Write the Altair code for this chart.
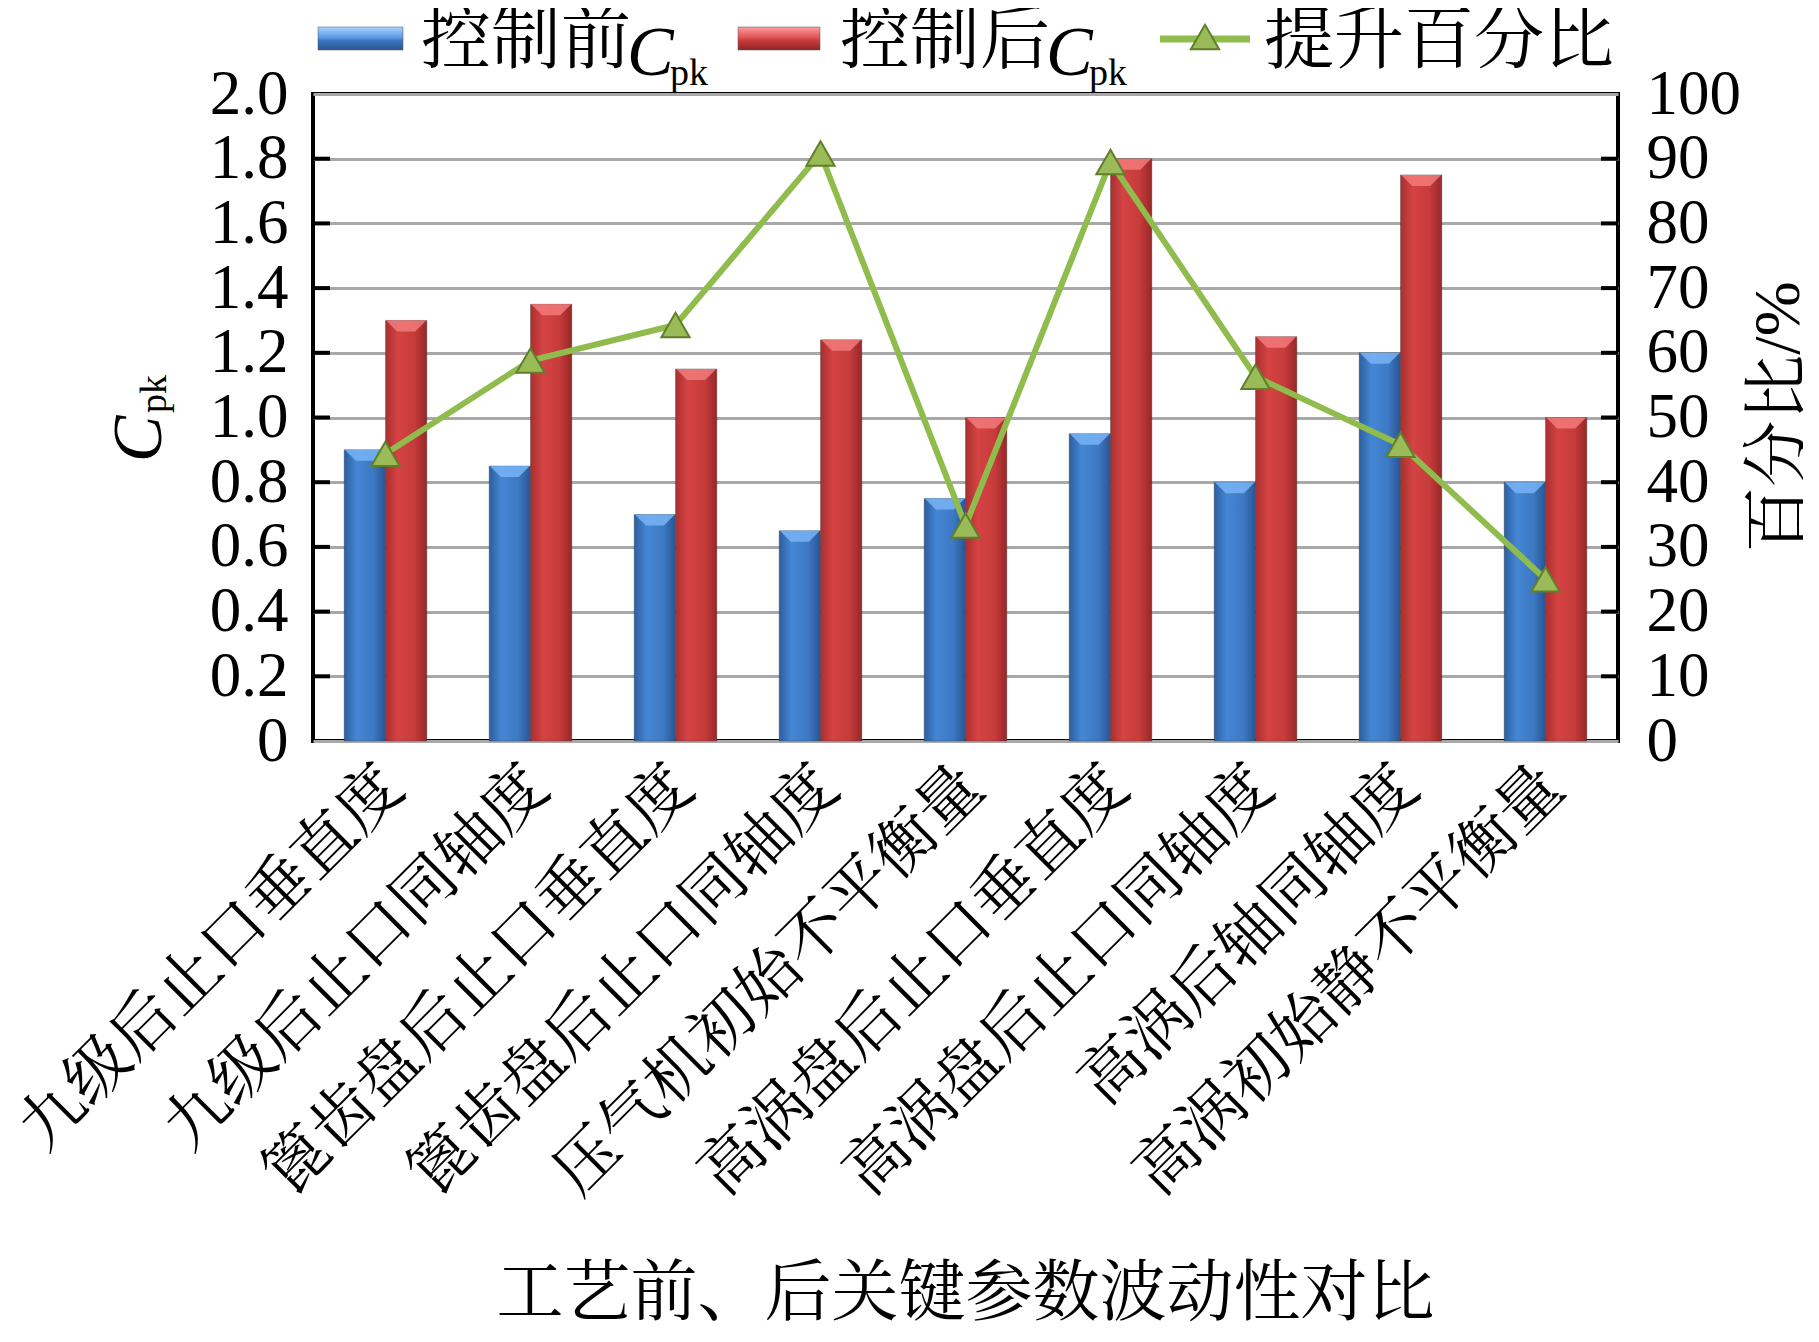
import altair as alt
import pandas as pd

categories = ["九级后止口垂直度", "九级后止口同轴度", "篦齿盘后止口垂直度", "篦齿盘后止口同轴度",
              "压气机初始不平衡量", "高涡盘后止口垂直度", "高涡盘后止口同轴度", "高涡后轴同轴度",
              "高涡初始静不平衡量"]
before = [0.90, 0.85, 0.70, 0.65, 0.75, 0.95, 0.80, 1.20, 0.80]
after = [1.30, 1.35, 1.15, 1.24, 1.00, 1.80, 1.25, 1.75, 1.00]
pct = [44.4, 58.8, 64.3, 90.8, 33.3, 89.5, 56.3, 45.8, 25.0]
series_names = ["控制前", "控制后"]
left_ticks = [0, 0.2, 0.4, 0.6, 0.8, 1.0, 1.2, 1.4, 1.6, 1.8, 2.0]
right_ticks = [0, 10, 20, 30, 40, 50, 60, 70, 80, 90, 100]
x_title = "工艺前、后关键参数波动性对比"
right_title = "百分比/%"
legend3 = "提升百分比"

W, H = 1305, 647
CJK = "Liberation Serif, Noto Serif CJK SC, Noto Sans CJK SC"
NUM = "Liberation Serif"

df = pd.DataFrame({"cat": categories, "before": before, "after": after, "pct": pct})
lt = pd.DataFrame({"v": left_ticks[1:-1]})
rt = pd.DataFrame({"v": right_ticks[1:-1]})

grad_blue = alt.Gradient(gradient="linear", x1=0, x2=1, y1=0, y2=0, stops=[
    alt.GradientStop(color="#2c5f9f", offset=0), alt.GradientStop(color="#4586d4", offset=0.3),
    alt.GradientStop(color="#3d79c4", offset=0.7), alt.GradientStop(color="#2a5592", offset=1)])
grad_red = alt.Gradient(gradient="linear", x1=0, x2=1, y1=0, y2=0, stops=[
    alt.GradientStop(color="#a92f2f", offset=0), alt.GradientStop(color="#d54343", offset=0.3),
    alt.GradientStop(color="#c73b3b", offset=0.7), alt.GradientStop(color="#962828", offset=1)])
leg_blue = alt.Gradient(gradient="linear", x1=0, x2=0, y1=0, y2=1, stops=[
    alt.GradientStop(color="#a8d4ff", offset=0), alt.GradientStop(color="#5b9be2", offset=0.45),
    alt.GradientStop(color="#3b74bd", offset=0.6), alt.GradientStop(color="#2b578f", offset=1)])
leg_red = alt.Gradient(gradient="linear", x1=0, x2=0, y1=0, y2=1, stops=[
    alt.GradientStop(color="#ff9c9c", offset=0), alt.GradientStop(color="#e05555", offset=0.45),
    alt.GradientStop(color="#c53a3a", offset=0.6), alt.GradientStop(color="#8f2626", offset=1)])

GREEN = "#8fbc4c"

xenc = alt.X("cat:N", sort=categories,
             scale=alt.Scale(paddingInner=0.43, paddingOuter=0.215),
             axis=alt.Axis(title=None, labelAngle=-45, labelAlign="right", labelBaseline="middle",
                           labelFont=CJK, labelFontSize=64, labelColor="black", labelPadding=36,
                           labelOffset=8, ticks=False, domain=False, labelLimit=0, grid=False,
                           labelOverlap=False))

lscale = alt.Scale(domain=[0, 2], nice=False, zero=True)
rscale = alt.Scale(domain=[0, 100], nice=False, zero=True)
laxis = alt.Axis(values=left_ticks, labelExpr="datum.value == 0 ? '0' : format(datum.value, '.1f')",
                 grid=True, gridColor="#a8a8a8", gridWidth=3, ticks=False, domain=False,
                 labelFont=NUM, labelFontSize=63, labelColor="black", labelPadding=25, title=None,
                 labelOverlap=False)
raxis = alt.Axis(orient="right", values=right_ticks, grid=False, ticks=False, domain=False,
                 labelFont=NUM, labelFontSize=63, labelColor="black", labelPadding=28, title=None,
                 labelOverlap=False)

xoff = alt.XOffset("s:N", scale=alt.Scale(domain=series_names, paddingInner=0, paddingOuter=0))

bevel = "M-1,0L1,0L0.45,0.55L-0.45,0.55Z"

def bars(field, name, grad, light):
    base = alt.Chart(df).transform_calculate(s=f"'{name}'")
    b = base.mark_bar(color=grad, stroke="#333333", strokeWidth=1, strokeOpacity=0.35).encode(
        x=xenc, xOffset=xoff, y=alt.Y(f"{field}:Q", scale=lscale, axis=laxis))
    t = base.mark_point(shape=bevel, filled=True, fill=light, opacity=0.85, size=1600, strokeWidth=0).encode(
        x=xenc, xOffset=xoff, y=alt.Y(f"{field}:Q", scale=lscale, axis=laxis))
    return [b, t]

lticks = alt.Chart(lt).mark_rule(color="black", strokeWidth=4).encode(
    y=alt.Y("v:Q", scale=lscale, axis=laxis), x=alt.value(0), x2=alt.value(17))

left_layer = alt.layer(*bars("before", "控制前", grad_blue, "#78b4f5"),
                       *bars("after", "控制后", grad_red, "#f27a7a"), lticks)

line = alt.Chart(df).mark_line(color=GREEN, strokeWidth=6).encode(
    x=xenc, y=alt.Y("pct:Q", scale=rscale, axis=raxis))
pts = alt.Chart(df).mark_point(shape="triangle-up", filled=True, fill="#9bbb59", stroke="#5f7f2a",
                               strokeWidth=2, size=800, opacity=1).encode(
    x=xenc, y=alt.Y("pct:Q", scale=rscale, axis=raxis))
rticks = alt.Chart(rt).mark_rule(color="black", strokeWidth=4).encode(
    y=alt.Y("v:Q", scale=rscale, axis=raxis), x=alt.value(W - 17), x2=alt.value(W))
right_layer = alt.layer(line, pts, rticks)

one = pd.DataFrame({"a": [0]})

def txt(s, x, y, size, font, style="normal", angle=0, align="left", baseline="middle"):
    return alt.Chart(pd.DataFrame({"t": [s]})).mark_text(
        font=font, fontSize=size, fontStyle=style, angle=angle, align=align, baseline=baseline,
        color="black").encode(x=alt.value(x), y=alt.value(y), text="t:N")

def swatch(x1, x2, grad):
    return alt.Chart(one).mark_rect(color=grad, stroke="#555555", strokeWidth=1, strokeOpacity=0.5).encode(
        x=alt.value(x1), x2=alt.value(x2), y=alt.value(-67), y2=alt.value(-44))

LY = -52
extras = [
    swatch(5, 90, leg_blue),
    txt(series_names[0], 108, LY, 70, CJK),
    txt("C", 108 + 206, -19, 70, NUM, style="italic", baseline="alphabetic"),
    txt("pk", 108 + 249, -9, 38, NUM, baseline="alphabetic"),
    swatch(425, 507, leg_red),
    txt(series_names[1], 527, LY, 70, CJK),
    txt("C", 527 + 206, -19, 70, NUM, style="italic", baseline="alphabetic"),
    txt("pk", 527 + 249, -9, 38, NUM, baseline="alphabetic"),
    alt.Chart(one).mark_rule(color=GREEN, strokeWidth=7).encode(
        x=alt.value(847), x2=alt.value(937), y=alt.value(-55)),
    alt.Chart(one).mark_point(shape="triangle-up", filled=True, fill="#9bbb59", stroke="#5f7f2a",
                              strokeWidth=2, size=800, opacity=1).encode(x=alt.value(892), y=alt.value(-57)),
    txt(legend3, 951, LY, 70, CJK),
    txt("C", -173, 345, 70, NUM, style="italic", angle=270, align="center", baseline="middle"),
    txt("pk", -158, 300, 38, NUM, angle=270, align="center", baseline="middle"),
    txt(right_title, 1466, 323, 66, CJK, angle=270, align="center", baseline="middle"),
    txt(x_title, W / 2, 1201, 67, CJK, align="center", baseline="middle"),
]

chart = alt.layer(left_layer, right_layer, *extras).resolve_scale(y="independent").properties(
    width=W, height=H,
    autosize=alt.AutoSizeParams(type="none"),
    padding={"left": 305, "top": 86, "right": 185, "bottom": 585},
    background="white",
).configure_view(stroke="black", strokeWidth=4)

chart.save("out.html", embed_options={"renderer": "svg", "actions": False})
